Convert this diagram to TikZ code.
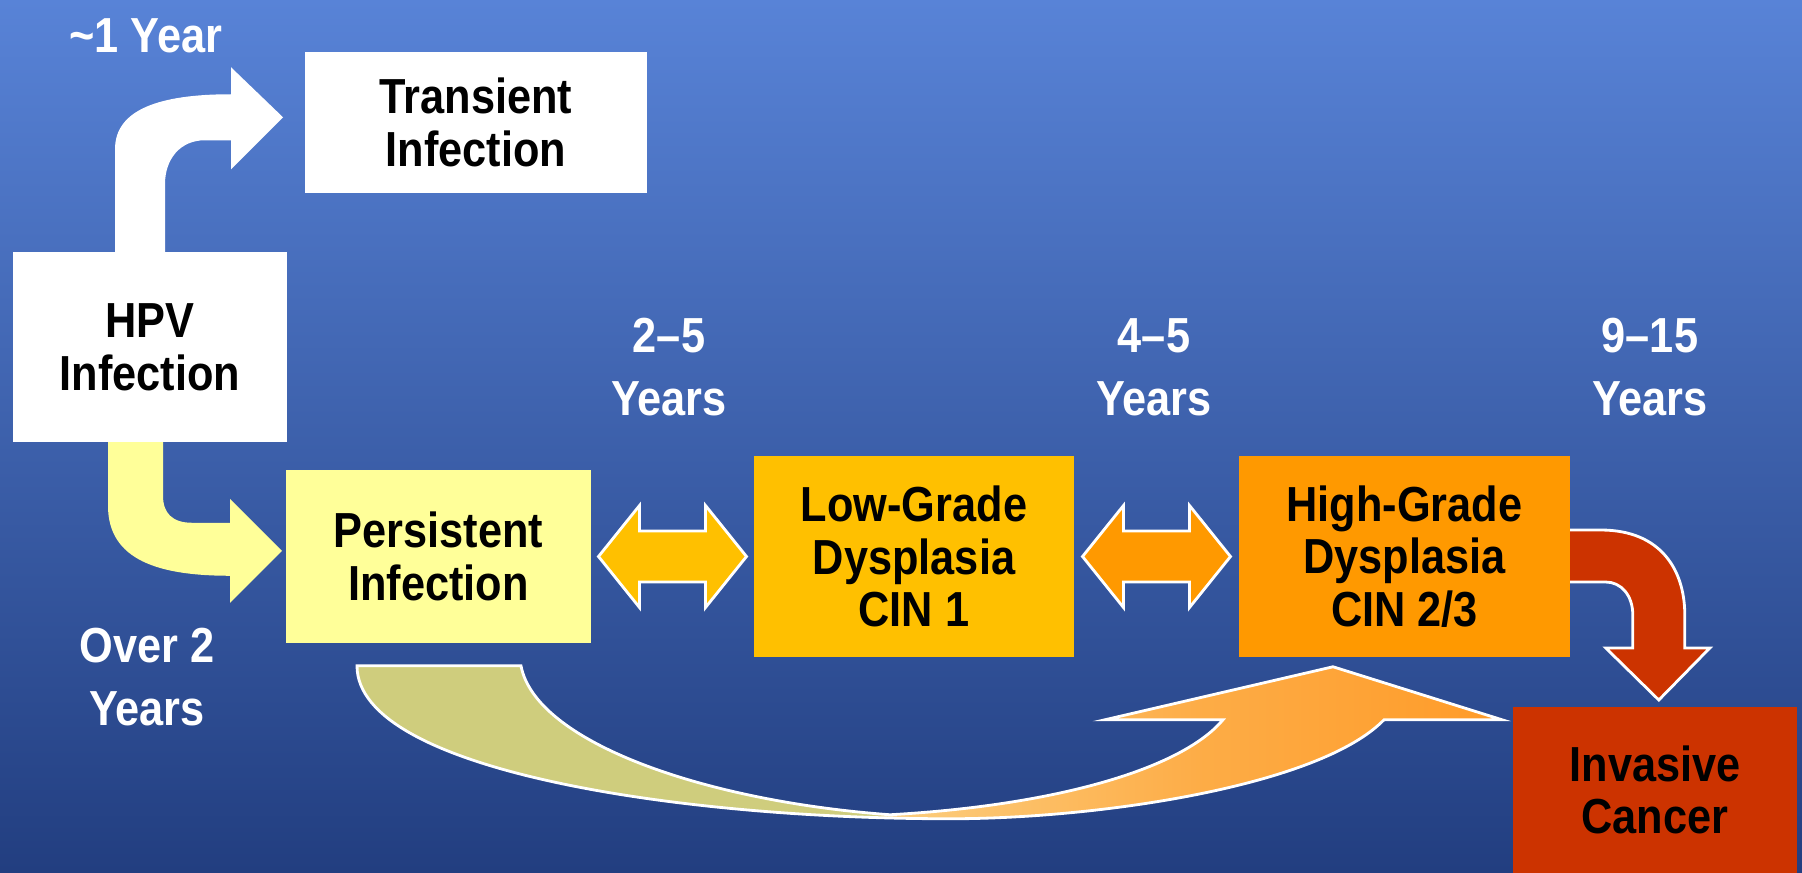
\documentclass[tikz,border=0pt]{standalone}
\usepackage{fontspec}
\setmainfont[FakeStretch=0.88]{Liberation Sans}
\usetikzlibrary{backgrounds}

\definecolor{bgtop}{RGB}{88,131,215}
\definecolor{bgbot}{RGB}{34,62,128}
\definecolor{persc}{RGB}{255,255,153}
\definecolor{lowc}{RGB}{255,192,0}
\definecolor{highc}{RGB}{255,153,0}
\definecolor{invc}{RGB}{204,51,0}
\definecolor{tanc}{RGB}{207,205,125}
\definecolor{lorange}{RGB}{252,205,125}
\definecolor{morange}{RGB}{253,172,70}
\definecolor{dorange}{RGB}{255,155,40}
\pgfdeclarehorizontalshading{swoosh}{100bp}{color(0bp)=(tanc); color(47.5bp)=(tanc); color(48.5bp)=(lorange); color(62bp)=(morange); color(75bp)=(dorange); color(100bp)=(dorange)}

\begin{document}
\begin{tikzpicture}[x=0.01cm, y=-0.01cm,
    box/.style={inner sep=0pt, align=center, font=\fontsize{14}{15}\selectfont\bfseries},
    lbl/.style={inner sep=0pt, align=center, text=white, font=\fontsize{14}{18}\selectfont\bfseries},
    rim/.style={draw=white, line width=0.8pt}]
    \useasboundingbox (0,0) rectangle (1802,872);

    \node[box, fill=white, minimum width=3.42cm, minimum height=1.41cm] (trans) at (476,122.5) {Transient\\Infection};
    \node[box, fill=white, minimum width=2.74cm, minimum height=1.90cm] (hpv) at (150,347) {HPV\\Infection};
    \node[box, fill=persc, minimum width=3.05cm, minimum height=1.73cm] (pers) at (438.5,556.5) {Persistent\\Infection};
    \node[box, fill=lowc, minimum width=3.20cm, minimum height=2.01cm] (low) at (914,556.5) {Low-Grade\\Dysplasia\\CIN 1};
    \node[box, fill=highc, minimum width=3.31cm, minimum height=2.01cm] (high) at (1404.5,556.5) {High-Grade\\Dysplasia\\CIN 2/3};
    \node[box, fill=invc, minimum width=2.84cm, minimum height=1.66cm] (inv) at (1655,790) {Invasive\\Cancer};

    \node[lbl] (yr1) at (146,36) {\textasciitilde 1 Year};
    \node[lbl] (yr25) at (669,367) {2–5\\Years};
    \node[lbl] (yr45) at (1154,367) {4–5\\Years};
    \node[lbl] (yr915) at (1650,367) {9–15\\Years};
    \node[lbl] (yr2) at (147,677) {Over 2\\Years};

    \begin{scope}[on background layer]
        \fill[top color=bgtop, bottom color=bgbot] (0,0) rectangle (1802,872);

        \begin{scope}[shift={(hpv.north)}]
            \fill[white] (-35,4) -- (-35,-102) .. controls (-35,-142) and (10,-157) .. (81,-157) -- (81,-184) -- (133,-134) -- (81,-82) -- (81,-111) -- (55,-111) .. controls (30,-111) and (15,-92) .. (15,-67) -- (15,4) -- cycle;
        \end{scope}

        \begin{scope}[shift={(hpv.south)}]
            \fill[persc] (-42,-4) -- (-42,63) .. controls (-42,118) and (10,133) .. (80,133) -- (80,160) -- (132,108) -- (80,56) -- (80,80) -- (42,80) .. controls (22,80) and (13,70) .. (13,53) -- (13,-4) -- cycle;
        \end{scope}

        \foreach \a/\b/\c in {pers/low/lowc, low/high/highc} {
            \path (\a.east) -- (\b.west) coordinate[pos=0.5] (m\a);
            \begin{scope}[shift={(m\a)}]
                \path[rim, fill=\c] (-74,0) -- (-33,-51) -- (-33,-25.5) -- (33,-25.5) -- (33,-51) -- (74,0) -- (33,51) -- (33,25.5) -- (-33,25.5) -- (-33,51) -- cycle;
            \end{scope}
        }

        \begin{scope}[shift={(high.east)}]
            \path[rim, fill=invc] (-4,-26.5) -- (30,-26.5) .. controls (90,-26.5) and (114,13.5) .. (114,58.5) -- (114,91.5) -- (139,91.5) -- (88,143.5) -- (35,91.5) -- (62,91.5) -- (62,58.5) .. controls (62,38.5) and (50,25.5) .. (35,25.5) -- (-4,25.5) -- cycle;
        \end{scope}

        \begin{scope}[shift={(pers.south)}]
            \path[rim, shade, shading=swoosh] (-81.5,22) -- (82.5,22) .. controls (96.5,97) and (261.5,157) .. (451.5,171) .. controls (611.5,162) and (741.5,127) .. (784.5,76) -- (666.5,76) -- (894.5,23) -- (1063.5,76) -- (945.5,76) .. controls (881.5,142) and (661.5,175) .. (511.5,175) .. controls (241.5,175) and (-81.5,127) .. (-81.5,22) -- cycle;
        \end{scope}
    \end{scope}
\end{tikzpicture}
\end{document}
